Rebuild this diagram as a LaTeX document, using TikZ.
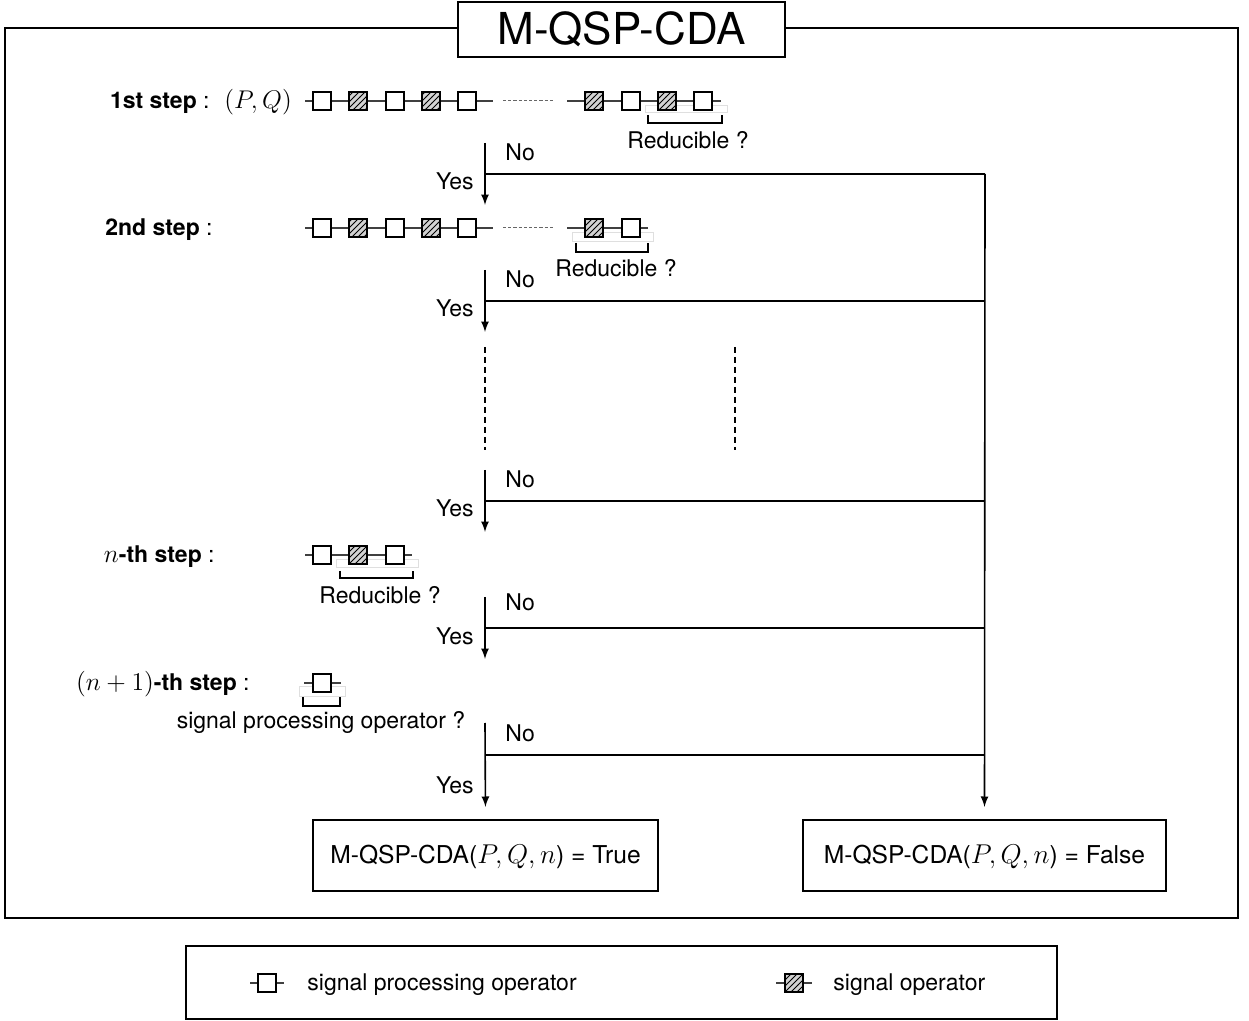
\RequirePackage{fix-cm}
\documentclass[tikz,border=0pt]{standalone}
\usepackage{fontspec}
\setmainfont{TeX Gyre Heros}
\usetikzlibrary{arrows, patterns, positioning, calc}
\newcommand{\mth}[1]{{\fontsize{12.8}{15}\selectfont$#1$}}
\newcommand{\mthbig}[1]{{\fontsize{13.6}{16}\selectfont$#1$}}

\tikzset{
  spo/.style={draw, line width=0.9pt, fill=white, inner sep=0pt, minimum size=9pt},
  so/.style={draw, line width=0.9pt, inner sep=0pt, minimum size=9pt,
    preaction={fill=gray!35}, pattern=north east lines},
  chainline/.style={line width=0.6pt, black!75},
  gapline/.style={line width=0.5pt, dash pattern=on 1.6pt off 1pt, black!60},
  redbox/.style={gray!25, line width=0.5pt},
  brack/.style={line width=0.9pt},
  flow/.style={line width=0.8pt},
  txt/.style={font=\fontsize{11.5}{14}\selectfont, inner sep=1pt},
  result/.style={draw, line width=1.1pt, minimum height=35.5pt,
    font=\fontsize{12.3}{15}\selectfont, text height=0.95em, text depth=0.15em},
}

\begin{document}
\begin{tikzpicture}[x=0.5pt, y=-0.5pt, >=latex]
\useasboundingbox (0,0) rectangle (1249,1021);

% frame and title
\draw[line width=1.1pt] (5,28) rectangle (1238,918);
\node[draw, line width=1.1pt, fill=white, minimum width=163.5pt, minimum height=27.5pt,
  font=\fontsize{22}{26}\selectfont] (title) at (621.5,29.5) {M-QSP-CDA};

% 1st step
\node[txt, anchor=east] (s1) at (212,103) {\textbf{1st step} :};
\node[txt, anchor=west] (pq) at (222,102) {\mth{(P,Q)}};
\draw[redbox] (645,106) rectangle (727,113);
\coordinate (a0) at (305,101);
\node[spo] (a1) at (322,101) {};
\node[so] (a2) at (358,101) {};
\node[spo] (a3) at (395,101) {};
\node[so] (a4) at (431,101) {};
\node[spo] (a5) at (467,101) {};
\coordinate (a6) at (493,101);
\coordinate (a7) at (503,101);
\coordinate (a8) at (555,101);
\coordinate (a9) at (567,101);
\node[so] (a10) at (594,101) {};
\node[spo] (a11) at (631,101) {};
\node[so] (a12) at (667,101) {};
\node[spo] (a13) at (703,101) {};
\coordinate (a14) at (721,101);
\draw[chainline] (a0) -- (a1) -- (a2) -- (a3) -- (a4) -- (a5) -- (a6);
\draw[gapline] (a7) -- (a8);
\draw[chainline] (a9) -- (a10) -- (a11) -- (a12) -- (a13) -- (a14);
\draw[brack] (648,115) |- (722,123) -- (722,115);
\node[txt] (r1) at (688,140) {Reducible ?};

% decision 1
\coordinate (q1) at (485,143);
\coordinate (j1) at (485,174);
\coordinate (k1) at (985,174);
\coordinate (t1) at (485,205);
\draw[flow, ->] (q1) -- (t1);
\draw[flow] (j1) -- (k1);
\node[txt, anchor=west] (no1) at (503,152) {No};
\node[txt, anchor=east] (yes1) at (476,181) {Yes};

% 2nd step
\node[txt, anchor=east] (s2) at (215,230) {\textbf{2nd step} :};
\draw[redbox] (572,233) rectangle (653,242);
\coordinate (b0) at (305,228);
\node[spo] (b1) at (322,228) {};
\node[so] (b2) at (358,228) {};
\node[spo] (b3) at (395,228) {};
\node[so] (b4) at (431,228) {};
\node[spo] (b5) at (467,228) {};
\coordinate (b6) at (493,228);
\coordinate (b7) at (503,228);
\coordinate (b8) at (555,228);
\coordinate (b9) at (567,228);
\node[so] (b10) at (594,228) {};
\node[spo] (b11) at (631,228) {};
\coordinate (b12) at (648,228);
\draw[chainline] (b0) -- (b1) -- (b2) -- (b3) -- (b4) -- (b5) -- (b6);
\draw[gapline] (b7) -- (b8);
\draw[chainline] (b9) -- (b10) -- (b11) -- (b12);
\draw[brack] (576,243) |- (648,252) -- (648,243);
\node[txt] (r2) at (616,268) {Reducible ?};

% decision 2
\coordinate (q2) at (485,270);
\coordinate (j2) at (485,301);
\coordinate (k2) at (985,301);
\coordinate (t2) at (485,332);
\draw[flow, ->] (q2) -- (t2);
\draw[flow] (j2) -- (k2);
\node[txt, anchor=west] (no2) at (503,279) {No};
\node[txt, anchor=east] (yes2) at (476,308) {Yes};

% dots
\draw[flow, dash pattern=on 3pt off 2pt] (485,347) -- (485,450);
\draw[flow, dash pattern=on 3pt off 2pt] (735,347) -- (735,450);

% decision 3
\coordinate (q3) at (485,470);
\coordinate (j3) at (485,501);
\coordinate (k3) at (985,501);
\coordinate (t3) at (485,532);
\draw[flow, ->] (q3) -- (t3);
\draw[flow] (j3) -- (k3);
\node[txt, anchor=west] (no3) at (503,479) {No};
\node[txt, anchor=east] (yes3) at (476,508) {Yes};

% n-th step
\node[txt, anchor=east] (s3) at (217,557) {\mth{n}\textbf{-th step} :};
\draw[redbox] (336,560) rectangle (418,568);
\coordinate (c0) at (305,555);
\node[spo] (c1) at (322,555) {};
\node[so] (c2) at (358,555) {};
\node[spo] (c3) at (395,555) {};
\coordinate (c4) at (412,555);
\draw[chainline] (c0) -- (c1) -- (c2) -- (c3) -- (c4);
\draw[brack] (340,571) |- (413,578) -- (413,571);
\node[txt] (r3) at (380,595) {Reducible ?};

% decision 4
\coordinate (q4) at (485,597);
\coordinate (j4) at (485,628);
\coordinate (k4) at (985,628);
\coordinate (t4) at (485,659);
\draw[flow, ->] (q4) -- (t4);
\draw[flow] (j4) -- (k4);
\node[txt, anchor=west] (no4) at (503,602) {No};
\node[txt, anchor=east] (yes4) at (476,636) {Yes};

% (n+1)-th step
\node[txt, anchor=east] (s4) at (252,684) {\mth{(n+1)}\textbf{-th step} :};
\draw[redbox] (299,687) rectangle (345,697);
\coordinate (f0) at (304,683);
\node[spo] (f1) at (322,683) {};
\coordinate (f2) at (341,683);
\draw[chainline] (f0) -- (f1) -- (f2);
\draw[brack] (303,697) |- (340,706) -- (340,697);
\node[txt] (r4) at (321,722) {signal processing operator ?};

% results
\node[result, minimum width=172.5pt] (true) at (485.5,855.5) {M-QSP-CDA(\mthbig{P,Q,n}) = True};
\node[result, minimum width=181.5pt] (false) at (984.5,855.5) {M-QSP-CDA(\mthbig{P,Q,n}) = False};

% decision 5
\coordinate (q5) at (485,723);
\coordinate (j5) at (485,755);
\coordinate (k5) at (985,755);
\draw[flow, ->, shorten >=6pt] (q5) -- (true.north);
\draw[flow] (j5) -- (k5);
\node[txt, anchor=west] (no5) at (503,733) {No};
\node[txt, anchor=east] (yes5) at (476,785) {Yes};
\draw[flow, ->, shorten >=6pt] (k1) -- (false.north);

% legend
\draw[line width=1.1pt] (186,946) rectangle (1057,1019);
\coordinate (l1a) at (250,983);
\node[spo] (l1) at (267,983) {};
\coordinate (l1b) at (284,983);
\draw[chainline] (l1a) -- (l1) -- (l1b);
\node[txt, anchor=west] (l1t) at (305,985) {signal processing operator};
\coordinate (l2a) at (776,983);
\node[so] (l2) at (794,983) {};
\coordinate (l2b) at (812,983);
\draw[chainline] (l2a) -- (l2) -- (l2b);
\node[txt, anchor=west] (l2t) at (831,985) {signal operator};

\end{tikzpicture}
\end{document}
